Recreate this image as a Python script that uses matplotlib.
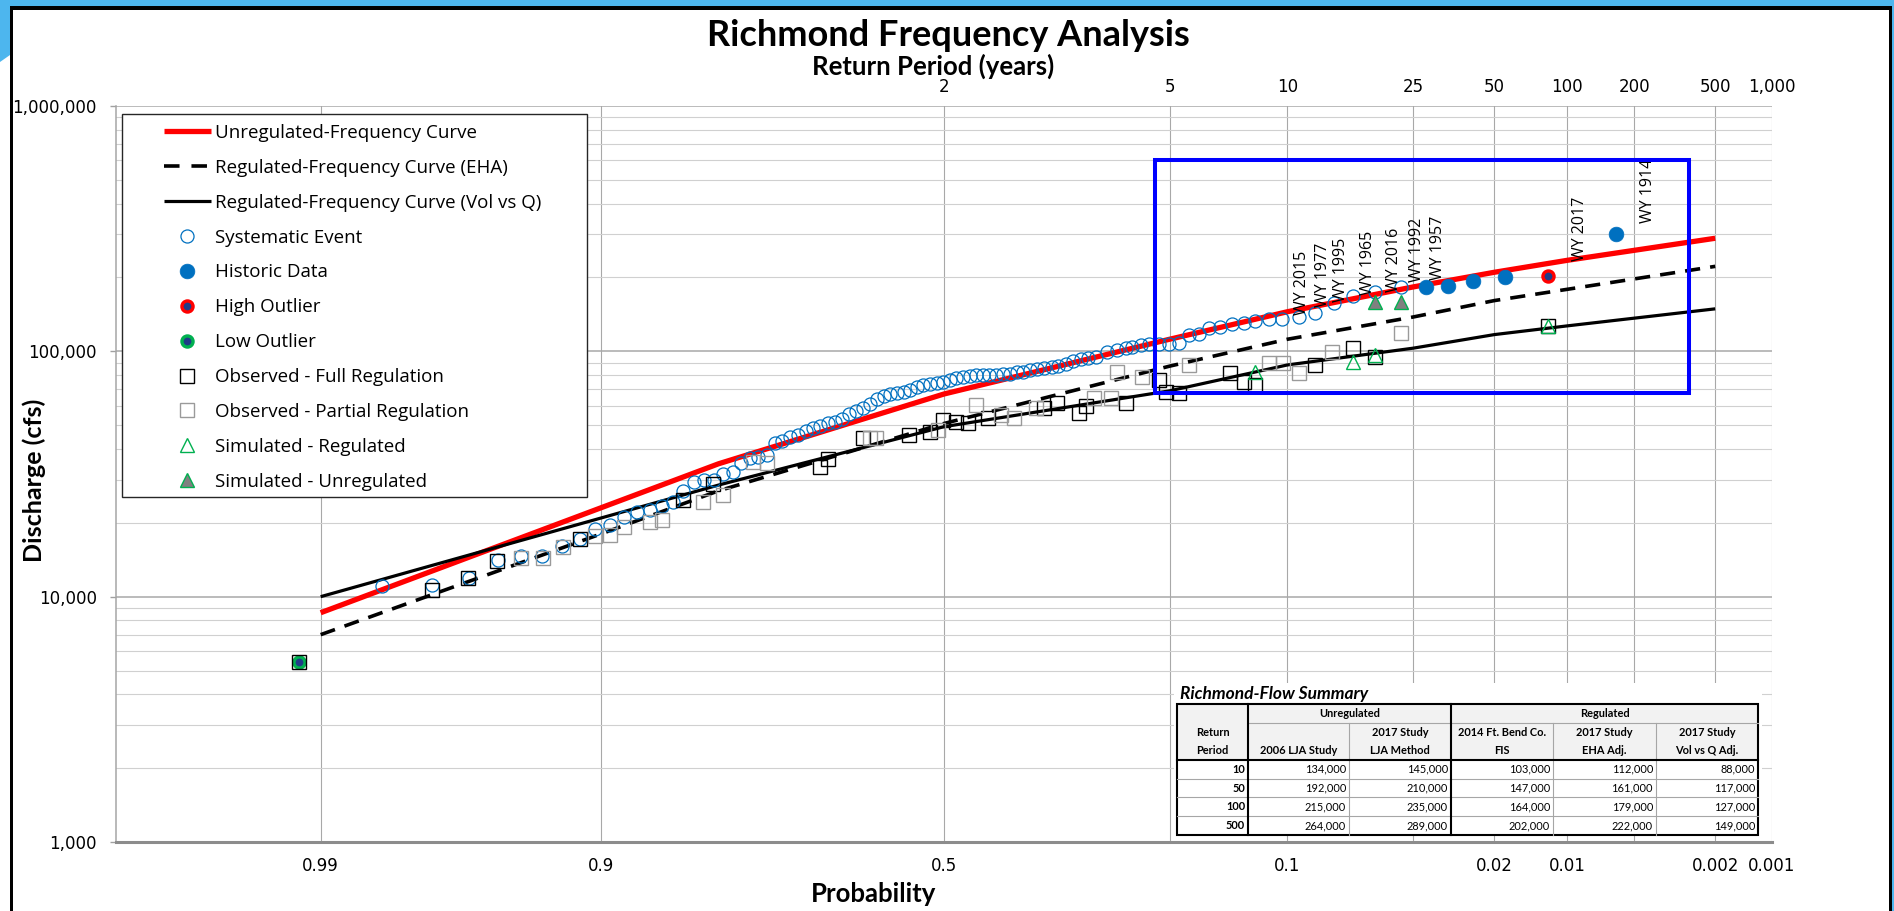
import numpy as np
import matplotlib
matplotlib.use("Agg")
import matplotlib.pyplot as plt
from matplotlib.patches import Rectangle, Polygon
from matplotlib.lines import Line2D
from matplotlib.ticker import FixedLocator, NullLocator, FixedFormatter
from statistics import NormalDist

# ---------------------------------------------------------------- data
# Frequency curves (exceedance probability -> discharge, cfs)
curve_prob = [0.99, 0.9, 0.8, 0.5, 0.2, 0.1, 0.04, 0.02, 0.01, 0.002]
unreg_curve_q = [8600, 23000, 34800, 67000, 112000, 145000, 183000, 210000, 235000, 289000]
eha_curve_q = [7000, 18000, 27000, 50800, 87000, 112000, 138000, 161000, 179000, 222000]
volq_curve_q = [10000, 20900, 28500, 49300, 69000, 88000, 103000, 117000, 127000, 149000]

# Systematic record (plotting position, peak discharge)
sys_prob = [0.982, 0.972, 0.962, 0.952, 0.943, 0.933, 0.923, 0.913, 0.9035, 0.894,
            0.8835, 0.874, 0.864, 0.854, 0.844, 0.835, 0.825, 0.815, 0.805, 0.795,
            0.785, 0.776, 0.766, 0.756, 0.746, 0.736, 0.727, 0.717, 0.707, 0.697,
            0.687, 0.678, 0.668, 0.658, 0.648, 0.638, 0.629, 0.619, 0.609, 0.599,
            0.589, 0.580, 0.570, 0.560, 0.550, 0.540, 0.531, 0.521, 0.511, 0.501,
            0.491, 0.482, 0.472, 0.462, 0.452, 0.442, 0.433, 0.423, 0.413, 0.403,
            0.393, 0.384, 0.374, 0.364, 0.354, 0.344, 0.335, 0.325, 0.315, 0.305,
            0.295, 0.285, 0.2711, 0.2589, 0.2489, 0.2412, 0.2315, 0.2222, 0.2115, 0.2007,
            0.1904, 0.1804, 0.1708, 0.1616, 0.1511, 0.1412, 0.1318, 0.1226, 0.1129, 0.1037,
            0.0929, 0.0833, 0.0730, 0.0633, 0.0538, 0.0441]
sys_q = [11100, 11200, 11900, 14100, 14700, 14700, 16100, 17200, 18900, 19600,
         21200, 22200, 22500, 23400, 24400, 27000, 29400, 30000, 30000, 31500,
         32300, 34900, 36600, 37100, 37800, 42200, 43100, 44700, 45400, 47200,
         48800, 49700, 50800, 51600, 53000, 55600, 57000, 58600, 61200, 64000,
         65900, 67000, 67500, 68500, 69600, 71800, 72900, 73600, 74500, 75200,
         76400, 77600, 78800, 79500, 80000, 80000, 80000, 80200, 80800, 81000,
         82000, 82500, 83600, 84500, 85500, 86500, 87500, 89000, 91000, 92800,
         93600, 94600, 99500, 101000, 102700, 104400, 106000, 107000, 107500, 107500,
         108000, 116500, 118000, 124000, 126000, 129000, 131000, 133000, 136000, 136000,
         137600, 143000, 157000, 168000, 175000, 183000]

historic_prob = [0.0360, 0.0301, 0.0241, 0.0182, 0.0061]
historic_q = [182400, 185000, 194000, 201400, 300600]

high_outlier_prob = [0.0121]
high_outlier_q = [203000]
low_outlier_prob = [0.9920]
low_outlier_q = [5430]

full_reg_prob = [0.9920, 0.9720, 0.9622, 0.9524, 0.9131, 0.8347, 0.8054, 0.6787, 0.6675, 0.6191,
                 0.5513, 0.5215, 0.5020, 0.4821, 0.4649, 0.4353, 0.3542, 0.3361, 0.3071, 0.2984,
                 0.2489, 0.2113, 0.2041, 0.1904, 0.1425, 0.1318, 0.1226, 0.0829, 0.0633, 0.0538,
                 0.0121]
full_reg_q = [5430, 10600, 11900, 14000, 17200, 24800, 28800, 33900, 36300, 44200,
              45600, 47000, 52500, 51700, 50800, 53300, 58600, 61400, 55900, 59800,
              61400, 76400, 68400, 67400, 81300, 75100, 72900, 87900, 102700, 95000,
              126800]

part_reg_prob = [0.9427, 0.9329, 0.9226, 0.9035, 0.8936, 0.8835, 0.8637, 0.8538, 0.8154, 0.7950,
                 0.7617, 0.7460, 0.6095, 0.5999, 0.5092, 0.4524, 0.4158, 0.3967, 0.3658, 0.2877,
                 0.2670, 0.2589, 0.2297, 0.1804, 0.1129, 0.1026, 0.0929, 0.0740, 0.0441]
part_reg_q = [14400, 14400, 16000, 17600, 17800, 19200, 20200, 20500, 24400, 25900,
              35500, 34900, 44200, 44200, 47700, 60400, 55000, 53300, 58600, 64300,
              64300, 82600, 78800, 87900, 89300, 89900, 81300, 99500, 119000]

sim_reg_prob = [0.1226, 0.0633, 0.0538, 0.0121]
sim_reg_q = [82600, 90800, 96600, 126800]
sim_unreg_prob = [0.0538, 0.0441]
sim_unreg_q = [159000, 159000]

# Named flood years and where their tags sit (probability, discharge)
event_names = ["WY 2015", "WY 1977", "WY 1995", "WY 1965", "WY 2016",
               "WY 1992", "WY 1957", "WY 2017", "WY 1914"]
event_tag_prob = [0.0909, 0.0784, 0.0692, 0.0566, 0.0464, 0.0389, 0.0326, 0.00885, 0.00432]
event_tag_q = [140600, 152000, 159000, 169600, 175000, 192000, 195400, 233800, 332400]

# Axis ticks
grid_prob = [0.99, 0.9, 0.5, 0.2, 0.1, 0.04, 0.02, 0.01, 0.005, 0.002, 0.001]
grid_prob_labels = ["0.99", "0.9", "0.5", "", "0.1", "", "0.02", "0.01", "", "0.002", "0.001"]
return_prob = [0.5, 0.2, 0.1, 0.04, 0.02, 0.01, 0.005, 0.002, 0.001]
return_labels = ["2", "5", "10", "25", "50", "100", "200", "500", "1,000"]
q_ticks = [1000, 10000, 100000, 1000000]

# Focus window (probability range, discharge range)
focus_prob = (0.2156, 0.00271)
focus_q = (67500, 602000)

# Flow summary table
table_periods = [10, 50, 100, 500]
lja_2006 = [134000, 192000, 215000, 264000]
lja_2017 = [145000, 210000, 235000, 289000]
fis_2014 = [103000, 147000, 164000, 202000]
eha_2017 = [112000, 161000, 179000, 222000]
volq_2017 = [88000, 117000, 127000, 149000]

# ---------------------------------------------------------------- probability scale
_nd = NormalDist()
_ppf = np.vectorize(_nd.inv_cdf, otypes=[float])
_cdf = np.vectorize(_nd.cdf, otypes=[float])


def prob_forward(p):
    # exceedance probability -> standard normal variate (increasing in p)
    p = np.clip(np.asarray(p, dtype=float), 1e-12, 1 - 1e-12)
    return _ppf(p)


def prob_inverse(z):
    z = np.asarray(z, dtype=float)
    return _cdf(z)


# ---------------------------------------------------------------- figure
W, H = 1894, 911
fig = plt.figure(figsize=(W / 100, H / 100), dpi=100)
fig.patch.set_facecolor("white")

TICK_FONT = "DejaVu Sans"
LEG_FONT = "Open Sans"
HEAD_FONT = "Lato"

ax_l, ax_r, ax_t, ax_b = 116, 1772, 106, 842
ax = fig.add_axes([ax_l / W, 1 - ax_b / H, (ax_r - ax_l) / W, (ax_b - ax_t) / H])
ax.set_xscale("function", functions=(prob_forward, prob_inverse))
ax.set_yscale("log")

blue = "#0070C0"
green = "#00B050"

l_unreg, = ax.plot(curve_prob, unreg_curve_q, color="#FF0000", lw=3.8,
                   solid_capstyle="butt", zorder=3, label="Unregulated-Frequency Curve")
l_eha, = ax.plot(curve_prob, eha_curve_q, color="black", lw=2.6, dashes=(4.2, 2.8),
                 dash_capstyle="butt", zorder=3, label="Regulated-Frequency Curve (EHA)")
l_volq, = ax.plot(curve_prob, volq_curve_q, color="black", lw=2.3,
                  solid_capstyle="butt", zorder=3, label="Regulated-Frequency Curve (Vol vs Q)")

m_sys, = ax.plot(sys_prob, sys_q, ls="none", marker="o", ms=9.4, mfc="none",
                 mec=blue, mew=0.9, zorder=4, label="Systematic Event")
m_hist, = ax.plot(historic_prob, historic_q, ls="none", marker="o", ms=10.6, mfc=blue,
                  mec=blue, mew=0.5, zorder=4, label="Historic Data")
m_high, = ax.plot(high_outlier_prob, high_outlier_q, ls="none", marker="o", ms=8.0,
                  mfc="#1F3C88", mec="#FF0000", mew=2.4, zorder=5, label="High Outlier")
m_low, = ax.plot(low_outlier_prob, low_outlier_q, ls="none", marker="o", ms=8.0,
                 mfc="#1F3C88", mec=green, mew=2.4, zorder=5, label="Low Outlier")
m_full, = ax.plot(full_reg_prob, full_reg_q, ls="none", marker="s", ms=10.5, mfc="none",
                  mec="black", mew=1.0, zorder=5, label="Observed - Full Regulation")
m_part, = ax.plot(part_reg_prob, part_reg_q, ls="none", marker="s", ms=10.5, mfc="none",
                  mec="#9A9A9A", mew=1.0, zorder=5, label="Observed - Partial Regulation")
m_sreg, = ax.plot(sim_reg_prob, sim_reg_q, ls="none", marker="^", ms=10.5, mfc="none",
                  mec=green, mew=1.0, zorder=6, label="Simulated - Regulated")
m_sunreg, = ax.plot(sim_unreg_prob, sim_unreg_q, ls="none", marker="^", ms=10.5,
                    mfc="#808080", mec=green, mew=1.0, zorder=6, label="Simulated - Unregulated")

for name, p, q in zip(event_names, event_tag_prob, event_tag_q):
    ax.text(p, q, name, rotation=90, ha="center", va="bottom", fontsize=11.5,
            family=LEG_FONT, color="black", zorder=7)

# focus window
ax.add_patch(Rectangle((focus_prob[0], focus_q[0]), focus_prob[1] - focus_prob[0],
                       focus_q[1] - focus_q[0], fill=False, edgecolor="#0000FF",
                       lw=2.9, zorder=7))

# axes limits, ticks, grid
ax.set_xlim(0.999, 0.001)
ax.set_ylim(1000, 1000000)
ax.xaxis.set_major_locator(FixedLocator(grid_prob))
ax.xaxis.set_major_formatter(FixedFormatter(grid_prob_labels))
ax.xaxis.set_minor_locator(NullLocator())
ax.yaxis.set_major_locator(FixedLocator(q_ticks))
ax.set_yticklabels([f"{v:,}" for v in q_ticks])
ax.set_axisbelow(True)
ax.grid(which="major", axis="x", color="#A8A8A8", lw=0.8)
ax.grid(which="major", axis="y", color="#A8A8A8", lw=1.1)
ax.grid(which="minor", axis="y", color="#D0D0D0", lw=0.8)
ax.tick_params(axis="x", which="both", length=0, pad=11, labelsize=12)
ax.tick_params(axis="y", which="major", length=4.3, width=1.0, color="#A0A0A0",
               direction="out", pad=9.4, labelsize=12)
ax.tick_params(axis="y", which="minor", length=0)
for lab in ax.get_xticklabels() + ax.get_yticklabels():
    lab.set_family(TICK_FONT)
ax.spines["top"].set_visible(False)
ax.spines["right"].set_visible(False)
ax.spines["left"].set_color("#A6A6A6")
ax.spines["left"].set_linewidth(1.1)
ax.spines["bottom"].set_color("#8C8C8C")
ax.spines["bottom"].set_linewidth(2.2)

# return period axis on top
ax_top = ax.twiny()
ax_top.set_xscale("function", functions=(prob_forward, prob_inverse))
ax_top.set_xlim(0.999, 0.001)
ax_top.xaxis.set_major_locator(FixedLocator(return_prob))
ax_top.xaxis.set_major_formatter(FixedFormatter(return_labels))
ax_top.xaxis.set_minor_locator(NullLocator())
ax_top.tick_params(axis="x", which="both", length=0, pad=7.5, labelsize=12)
for lab in ax_top.get_xticklabels():
    lab.set_family(TICK_FONT)
for s in ax_top.spines.values():
    s.set_visible(False)

# legend with its own framed backdrop
leg_box = (121.7, 114, 587, 497)
ax.add_patch(Rectangle(((leg_box[0] - ax_l) / (ax_r - ax_l), (ax_b - leg_box[3]) / (ax_b - ax_t)),
                       (leg_box[2] - leg_box[0]) / (ax_r - ax_l),
                       (leg_box[3] - leg_box[1]) / (ax_b - ax_t),
                       transform=ax.transAxes, facecolor="white", edgecolor="#262626",
                       lw=1.0, zorder=8))
eha_proxy = Line2D([], [], color="black", lw=2.6, dashes=(4.3, 3.3), dash_capstyle="butt")
handles = [l_unreg, eha_proxy, l_volq, m_sys, m_hist, m_high, m_low, m_full, m_part, m_sreg, m_sunreg]
labels = [h.get_label() for h in handles]
labels[1] = l_eha.get_label()
leg = ax.legend(handles, labels, loc="upper left",
                bbox_to_anchor=((164 - ax_l) / (ax_r - ax_l), (ax_b - 124) / (ax_b - ax_t)),
                frameon=False, borderpad=0, borderaxespad=0, handlelength=2.5,
                handletextpad=0.21, labelspacing=0.90, numpoints=1,
                prop={"family": LEG_FONT, "size": 13.5})
leg.set_zorder(9)

# titles
fig.text(948 / W, 1 - 35 / H, "Richmond Frequency Analysis", ha="center", va="center",
         fontsize=26, fontweight="bold", family=HEAD_FONT)
fig.text(933 / W, 1 - 66 / H, "Return Period (years)", ha="center", va="center",
         fontsize=18.5, fontweight="bold", family=HEAD_FONT)
fig.text(874 / W, 1 - 894 / H, "Probability", ha="center", va="center",
         fontsize=18.5, fontweight="bold", family=HEAD_FONT)
fig.text(34 / W, 1 - 480 / H, "Discharge (cfs)", ha="center", va="center", rotation=90,
         fontsize=18, fontweight="bold", family=HEAD_FONT)

# ---------------------------------------------------------------- summary table
tx0, tx1, ty0, ty1 = 1172, 1764, 680, 838
tax = fig.add_axes([tx0 / W, 1 - ty1 / H, (tx1 - tx0) / W, (ty1 - ty0) / H], zorder=10)
tax.set_xlim(tx0, tx1)
tax.set_ylim(ty1, ty0)
tax.axis("off")
tax.add_patch(Rectangle((1174, 683), 1762 - 1174, 836 - 683, facecolor="white", edgecolor="none"))

cols = [1177, 1248, 1349, 1451, 1553, 1656, 1758]
top, mid, hdr = 704, 723, 760
rows = [760, 778.7, 797.3, 816, 835]

tax.add_patch(Rectangle((cols[0], top), cols[-1] - cols[0], hdr - top,
                        facecolor="#F2F2F2", edgecolor="none"))
thin = dict(color="#A6A6A6", lw=0.8)
thick = dict(color="black", lw=1.5)
tax.plot([cols[1], cols[-1]], [mid, mid], **thin)
for yy in rows[1:-1]:
    tax.plot([cols[0], cols[-1]], [yy, yy], **thin)
for xx in (cols[2], cols[4], cols[5]):
    tax.plot([xx, xx], [mid, rows[-1]], **thin)
tax.plot([cols[0], cols[-1]], [hdr, hdr], **thick)
for xx in (cols[1], cols[3]):
    tax.plot([xx, xx], [top, rows[-1]], **thick)
tax.add_patch(Rectangle((cols[0], top), cols[-1] - cols[0], rows[-1] - top,
                        fill=False, edgecolor="black", lw=1.5))

tfont = dict(family=HEAD_FONT, fontsize=7.9)
tax.text(1180, 694, "Richmond-Flow Summary", ha="left", va="center", family=HEAD_FONT,
         fontsize=12.5, fontweight="bold", style="italic")
tax.text((cols[1] + cols[3]) / 2, 713.5, "Unregulated", ha="center", va="center",
         fontweight="bold", **tfont)
tax.text((cols[3] + cols[6]) / 2, 713.5, "Regulated", ha="center", va="center",
         fontweight="bold", **tfont)
headers = [("Return", "Period"), ("", "2006 LJA Study"), ("2017 Study", "LJA Method"),
           ("2014 Ft. Bend Co.", "FIS"), ("2017 Study", "EHA Adj."),
           ("2017 Study", "Vol vs Q Adj.")]
for i, (h1, h2) in enumerate(headers):
    cx = (cols[i] + cols[i + 1]) / 2
    tax.text(cx, 733, h1, ha="center", va="center", fontweight="bold", **tfont)
    tax.text(cx, 751, h2, ha="center", va="center", fontweight="bold", **tfont)
columns = [lja_2006, lja_2017, fis_2014, eha_2017, volq_2017]
for r, period in enumerate(table_periods):
    cy = (rows[r] + rows[r + 1]) / 2
    tax.text(cols[1] - 3, cy, f"{period}", ha="right", va="center", fontweight="bold", **tfont)
    for c, series in enumerate(columns):
        tax.text(cols[c + 2] - 3, cy, f"{series[r]:,}", ha="right", va="center", **tfont)

# ---------------------------------------------------------------- page frame
def fig_rect(x0, y0, x1, y1, **kw):
    fig.add_artist(Rectangle((x0 / W, 1 - y1 / H), (x1 - x0) / W, (y1 - y0) / H,
                             transform=fig.transFigure, **kw))


frame_blue = "#4DB6EE"
fig_rect(0, 0, W, 7, facecolor=frame_blue, edgecolor="none", zorder=20)
fig.add_artist(Polygon([(0, 1), (10 / W, 1), (10 / W, 1 - 55 / H), (0, 1 - 62 / H)],
                       closed=True, transform=fig.transFigure, facecolor=frame_blue,
                       edgecolor="none", zorder=20))
fig_rect(9.5, 6.5, 1892, 9.5, facecolor="black", edgecolor="none", zorder=21)
fig_rect(9.5, 6.5, 12.5, H, facecolor="black", edgecolor="none", zorder=21)
fig_rect(1889, 6.5, 1892, H, facecolor="black", edgecolor="none", zorder=21)
fig_rect(1892, 0, W, H, facecolor=frame_blue, edgecolor="none", zorder=20)

fig.savefig("out.png", dpi=100)
